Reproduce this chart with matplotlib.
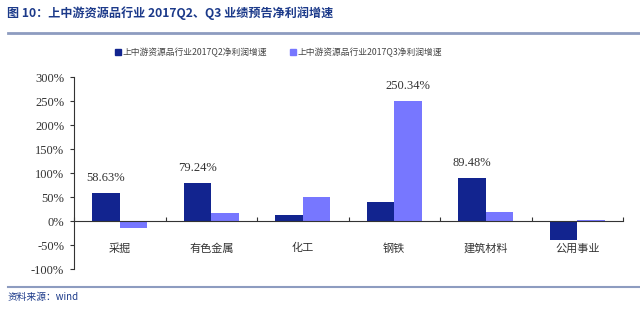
import numpy as np
import matplotlib
matplotlib.use('Agg')
import matplotlib.pyplot as plt
from matplotlib.lines import Line2D

# data
categories = ['采掘', '有色金属', '化工', '钢铁', '建筑材料', '公用事业']
q2_growth = [58.63, 79.24, 12.0, 40.0, 89.48, -40.0]
q3_growth = [-15.0, 17.0, 50.0, 250.34, 19.0, 2.0]
q2_labels = ['58.63%', '79.24%', '', '', '89.48%', '']
q3_labels = ['', '', '', '250.34%', '', '']
yticks = [-100, -50, 0, 50, 100, 150, 200, 250, 300]
series_names = ['上中游资源品行业2017Q2净利润增速', '上中游资源品行业2017Q3净利润增速']

dark = '#12248f'
light = '#7777ff'
cjk = ['Noto Sans CJK SC', 'DejaVu Sans']
serif = ['Liberation Serif', 'DejaVu Serif']

fig = plt.figure(figsize=(6.4, 3.1), dpi=100)
ax = fig.add_axes([74 / 640, 1 - 269 / 310, 549 / 640, 192 / 310])

x = np.arange(len(categories))
w = 0.30
ax.bar(x - w / 2, q2_growth, w, color=dark, label=series_names[0], zorder=2)
ax.bar(x + w / 2, q3_growth, w, color=light, label=series_names[1], zorder=2)

for i in range(len(categories)):
    if q2_labels[i]:
        ax.text(x[i] - w / 2, q2_growth[i] + 18, q2_labels[i], ha='center', va='bottom',
                fontsize=9, family=serif, color='#333333')
    if q3_labels[i]:
        ax.text(x[i] + w / 2, q3_growth[i] + 18, q3_labels[i], ha='center', va='bottom',
                fontsize=9, family=serif, color='#333333')

ax.set_xlim(-0.5, len(categories) - 0.5)
ax.set_ylim(-100, 300)
ax.set_yticks(yticks)
ax.set_yticklabels([f'{v}%' for v in yticks], family=serif, fontsize=9, color='#333333')
ax.tick_params(axis='y', length=3, width=0.8, color='#333333', pad=4)

# x axis drawn at zero, boundary ticks and category labels
ax.spines['bottom'].set_position(('data', 0))
ax.spines['bottom'].set_color('#333333')
ax.spines['left'].set_color('#333333')
ax.spines['top'].set_visible(False)
ax.spines['right'].set_visible(False)
ax.set_xticks(np.arange(len(categories) + 1) - 0.5)
ax.set_xticklabels([])
ax.tick_params(axis='x', which='major', direction='in', length=3, color='#333333')
ax.set_xticks(x, minor=True)
ax.set_xticklabels(categories, minor=True, family=cjk, fontsize=8, color='#333333')
ax.tick_params(axis='x', which='minor', length=0, pad=16)

handles = [Line2D([], [], marker='s', linestyle='', color=dark, markersize=5),
           Line2D([], [], marker='s', linestyle='', color=light, markersize=5)]
fig.legend(handles, series_names, loc='center', bbox_to_anchor=(278 / 640, 1 - 52 / 310), ncol=2,
           frameon=False, prop={'family': cjk, 'size': 6.3}, handletextpad=0.0,
           handlelength=1.0, columnspacing=2.5, labelcolor='#444444')

# header and footer
fig.text(7 / 640, 1 - 13 / 310, '图 10：上中游资源品行业 2017Q2、Q3 业绩预告净利润增速',
         family=cjk, fontsize=8.7, weight='bold', color='#1c3a8a', va='center', ha='left')
fig.add_artist(Line2D([8 / 640, 1], [1 - 33 / 310] * 2, color='#8d9cc0', lw=2))
fig.add_artist(Line2D([8 / 640, 1], [1 - 287 / 310] * 2, color='#8d9cc0', lw=1.5))
fig.text(8 / 640, 1 - 297 / 310, '资料来源：wind', family=cjk, fontsize=7, style='italic',
         color='#1c3a8a', va='center', ha='left')

fig.savefig('out.png', dpi=100)
